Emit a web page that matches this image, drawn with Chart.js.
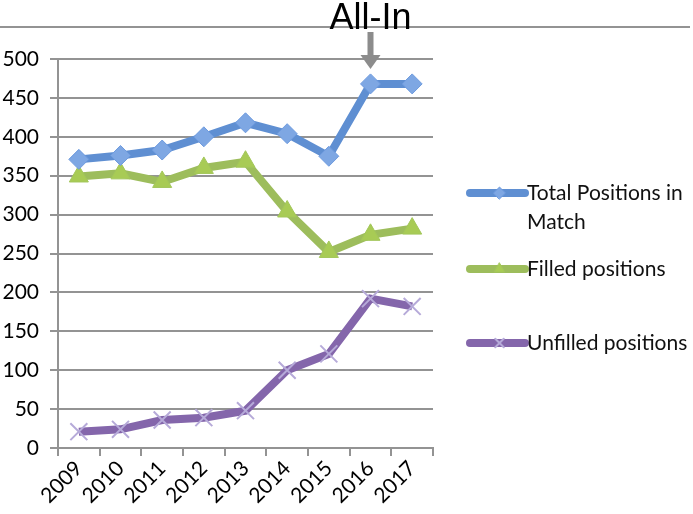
<!DOCTYPE html>
<html>
<head>
<meta charset="utf-8">
<script src="https://cdn.jsdelivr.net/npm/chart.js@4"></script>
<style>
  html, body { margin: 0; padding: 0; background: #fff; }
  #wrap { width: 693px; height: 514px; position: relative; }
</style>
</head>
<body>
<div id="wrap"><canvas id="matchChart"></canvas></div>
<script>
// datos
const years = ['2009', '2010', '2011', '2012', '2013', '2014', '2015', '2016', '2017'];
const totalPositions = [371, 376, 383, 400, 418, 404, 375, 468, 468];
const filledPositions = [349, 353, 342, 360, 368, 304, 252, 274, 282];
const unfilledPositions = [21, 24, 36, 39, 48, 100, 121, 192, 182];
const yTicks = [0, 50, 100, 150, 200, 250, 300, 350, 400, 450, 500];
const annotationYear = '2016';
const annotationText = 'All-In';

const gridGray = '#939393';

// Leyenda a la derecha
const sideLegend = {
  id: 'sideLegend',
  afterDraw(chart, args, opts) {
    const ctx = chart.ctx;
    ctx.save();
    chart.data.datasets.forEach((ds, i) => {
      const y = opts.rows[i];
      ctx.strokeStyle = ds.borderColor;
      ctx.lineWidth = 8;
      ctx.lineCap = 'round';
      ctx.beginPath();
      ctx.moveTo(opts.x0, y);
      ctx.lineTo(opts.x1, y);
      ctx.stroke();
      const mx = (opts.x0 + opts.x1) / 2 + 2;
      ctx.fillStyle = ds.pointBackgroundColor;
      ctx.strokeStyle = ds.pointBorderColor;
      ctx.lineWidth = ds.pointBorderWidth;
      Chart.helpers.drawPoint(ctx, {
        pointStyle: ds.pointStyle,
        radius: 6,
        borderWidth: ds.pointBorderWidth
      }, mx, y);
      ctx.fillStyle = '#111';
      ctx.font = '21px Lato';
      ctx.textBaseline = 'middle';
      const lines = Array.isArray(ds.label) ? ds.label : [ds.label];
      lines.forEach((t, k) => ctx.fillText(t, opts.x1 + 2, y + k * 29));
    });
    ctx.restore();
  }
};

// Anotacion "All-In" con flecha
const allInMark = {
  id: 'allInMark',
  afterDraw(chart) {
    const ctx = chart.ctx;
    const x = chart.scales.x.getPixelForValue(years.indexOf(annotationYear));
    ctx.save();
    ctx.strokeStyle = gridGray;
    ctx.lineWidth = 2;
    ctx.beginPath();
    ctx.moveTo(0, 27);
    ctx.lineTo(690, 27);
    ctx.stroke();
    ctx.fillStyle = '#000';
    ctx.font = '36px "Liberation Sans"';
    ctx.textAlign = 'center';
    ctx.textBaseline = 'alphabetic';
    ctx.fillText(annotationText, x, 29);
    // flecha
    ctx.fillStyle = '#8c8c8c';
    ctx.fillRect(x - 3, 32, 6, 26);
    ctx.beginPath();
    ctx.moveTo(x - 10, 55);
    ctx.lineTo(x + 10, 55);
    ctx.lineTo(x, 69);
    ctx.closePath();
    ctx.fill();
    ctx.restore();
  }
};

const ctx = document.getElementById('matchChart').getContext('2d');
const chart = new Chart(ctx, {
  type: 'line',
  data: {
    labels: years,
    datasets: [{
      label: ['Total Positions in', 'Match'],
      data: totalPositions,
      borderColor: '#5f8fd2',
      borderWidth: 8,
      pointStyle: 'rectRot',
      pointRadius: 10,
      pointBackgroundColor: '#7ea7e3',
      pointBorderColor: '#6d9ade',
      pointBorderWidth: 1,
      tension: 0
    }, {
      label: 'Filled positions',
      data: filledPositions,
      borderColor: '#9dbd5c',
      borderWidth: 8,
      pointStyle: 'triangle',
      pointRadius: 11,
      pointBackgroundColor: '#a8cb55',
      pointBorderColor: '#a2c65a',
      pointBorderWidth: 1,
      tension: 0
    }, {
      label: 'Unfilled positions',
      data: unfilledPositions,
      borderColor: '#8466ab',
      borderWidth: 8,
      pointStyle: 'crossRot',
      pointRadius: 12,
      pointBackgroundColor: '#b1a4d6',
      pointBorderColor: '#b6aad9',
      pointBorderWidth: 2,
      tension: 0
    }]
  },
  options: {
    responsive: true,
    maintainAspectRatio: false,
    animation: false,
    layout: {
      padding: { top: 59, right: 260, left: 0, bottom: 0 }
    },
    plugins: {
      legend: { display: false },
      title: { display: false },
      tooltip: { enabled: false },
      sideLegend: { x0: 470, x1: 525, rows: [193, 269, 343] }
    },
    scales: {
      x: {
        offset: true,
        grid: {
          offset: true,
          drawOnChartArea: false,
          drawTicks: true,
          tickLength: 8,
          color: gridGray,
          lineWidth: 2
        },
        border: { color: gridGray, width: 2 },
        ticks: {
          color: '#000',
          font: { family: 'Lato', size: 21 },
          maxRotation: 45,
          minRotation: 45,
          padding: 0,
          autoSkip: false
        },
        afterFit(scale) { scale.height = 66; }
      },
      y: {
        min: 0,
        max: 500,
        afterBuildTicks(scale) { scale.ticks = yTicks.map(v => ({ value: v })); },
        grid: {
          color: gridGray,
          lineWidth: 2,
          tickLength: 8
        },
        border: { color: gridGray, width: 2 },
        ticks: {
          color: '#000',
          font: { family: 'Lato', size: 21 },
          padding: 11
        },
        afterFit(scale) { scale.width = 58; }
      }
    }
  },
  plugins: [sideLegend, allInMark]
});
</script>
</body>
</html>
